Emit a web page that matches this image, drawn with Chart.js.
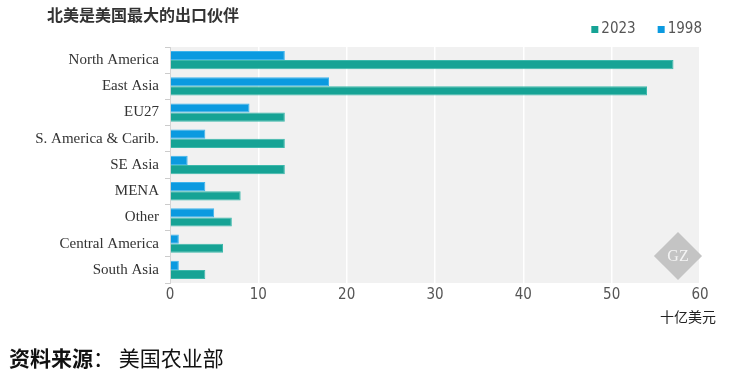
<!DOCTYPE html>
<html>
<head>
<meta charset="utf-8">
<script src="https://cdn.jsdelivr.net/npm/chart.js@4"></script>
<style>
  body { margin: 0; background: #fff; }
  #wrap { position: relative; width: 729px; height: 372px; }
  #title { position: absolute; left: 47px; top: 3px; font: bold 16px/22px "Noto Sans CJK SC", sans-serif; color: #333; }
  #unit { position: absolute; left: 660px; top: 306px; font: 14px/20px "Noto Sans CJK SC", sans-serif; color: #222; }
  #source { position: absolute; left: 9px; top: 342px; font: 21px/30px "Noto Sans CJK SC", sans-serif; color: #111; }
  #source b { font-weight: bold; }
</style>
</head>
<body>
<div id="wrap">
  <canvas id="chart" width="729" height="372"></canvas>
  <div id="title">北美是美国最大的出口伙伴</div>
  <div id="unit">十亿美元</div>
  <div id="source"><b>资料来源</b>：&nbsp;美国农业部</div>
</div>
<script>
const regions = ['North America', 'East Asia', 'EU27', 'S. America & Carib.', 'SE Asia', 'MENA', 'Other', 'Central America', 'South Asia'];
const exports1998 = [13, 18, 9, 4, 2, 4, 5, 1, 1];
const exports2023 = [57, 54, 13, 13, 13, 8, 7, 6, 4];
const xTicks = [0, 10, 20, 30, 40, 50, 60];

const tickFont = '"DejaVu Sans Condensed", "Liberation Sans Narrow", sans-serif';

// grey plot background, GZ watermark and a small legend in the top right
const decor = {
  id: 'decor',
  beforeDraw(chart) {
    const { ctx, chartArea: a } = chart;
    ctx.save();
    ctx.fillStyle = '#f1f1f1';
    ctx.fillRect(a.left, a.top, a.right - a.left, a.bottom - a.top);
    ctx.restore();
  },
  afterDatasetsDraw(chart) {
    const { ctx, chartArea: a } = chart;
    ctx.save();
    ctx.translate(a.right - 22, a.bottom - 27);
    ctx.rotate(Math.PI / 4);
    ctx.fillStyle = '#c4c4c4';
    ctx.fillRect(-17, -17, 34, 34);
    ctx.rotate(-Math.PI / 4);
    ctx.fillStyle = '#f4f4f4';
    ctx.font = '16px "Liberation Serif", serif';
    ctx.textAlign = 'center';
    ctx.textBaseline = 'middle';
    ctx.fillText('GZ', 0, 1);
    ctx.restore();
  },
  afterDraw(chart) {
    const { ctx } = chart;
    const items = chart.data.datasets.slice().reverse();
    ctx.save();
    ctx.font = '15px ' + tickFont;
    ctx.textBaseline = 'middle';
    let x = 702;
    const y = 29;
    for (let i = items.length - 1; i >= 0; i--) {
      const ds = items[i];
      const w = ctx.measureText(ds.label).width;
      x -= w;
      ctx.fillStyle = '#555';
      ctx.fillText(ds.label, x, y);
      x -= 10;
      ctx.fillStyle = ds.backgroundColor;
      ctx.fillRect(x, y - 3, 7, 7);
      x -= 22;
    }
    ctx.restore();
  }
};

new Chart(document.getElementById('chart'), {
  type: 'bar',
  data: {
    labels: regions,
    datasets: [
      { label: '1998', data: exports1998, backgroundColor: '#0b9ae0', borderColor: '#3fb4ec', borderWidth: 1 },
      { label: '2023', data: exports2023, backgroundColor: '#16a395', borderColor: '#3cb8ab', borderWidth: 1 }
    ]
  },
  options: {
    indexAxis: 'y',
    responsive: false,
    animation: false,
    categoryPercentage: 0.7,
    barPercentage: 1,
    layout: { padding: { top: 47, left: 0, right: 29, bottom: 64 } },
    plugins: {
      legend: { display: false },
      tooltip: { enabled: false }
    },
    scales: {
      x: {
        min: 0,
        max: 60,
        afterBuildTicks(scale) { scale.ticks = xTicks.map(v => ({ value: v })); },
        afterFit(scale) { scale.height = 25; },
        grid: { color: '#ffffff', lineWidth: 1.5, drawTicks: false },
        border: { display: false },
        ticks: {
          padding: 3,
          color: '#555',
          font: { family: tickFont, size: 15 }
        }
      },
      y: {
        afterFit(scale) { scale.width = 170; },
        grid: { offset: true, drawOnChartArea: false, tickLength: 5, color: '#cccccc' },
        border: { color: '#d4d4d4' },
        ticks: {
          padding: 6,
          color: '#333',
          font: { family: '"Liberation Serif", "DejaVu Serif", serif', size: 15 }
        }
      }
    }
  },
  plugins: [decor]
});
</script>
</body>
</html>
